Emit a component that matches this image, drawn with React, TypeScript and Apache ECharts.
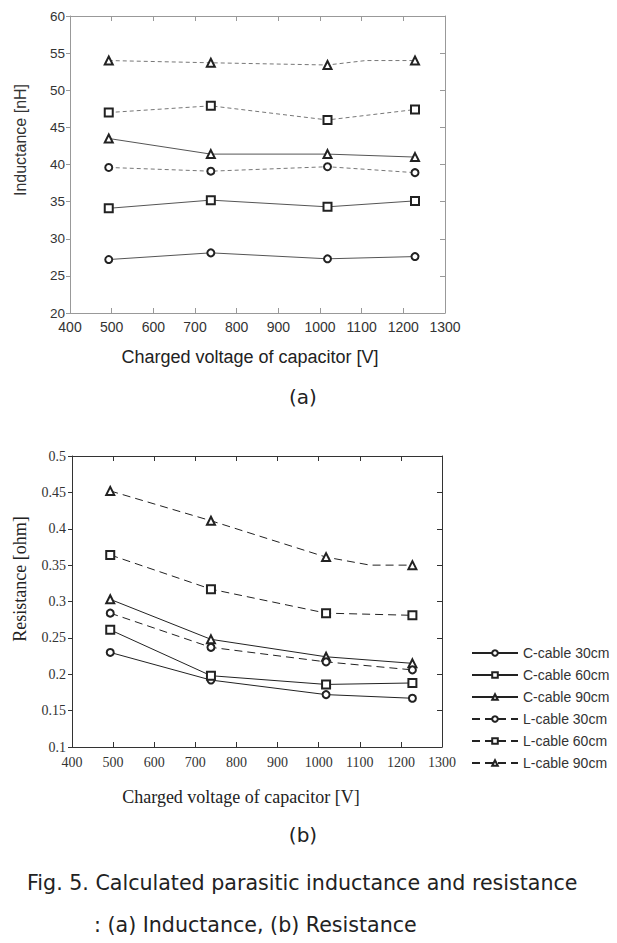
import React, { useEffect, useRef } from "react";
import * as echarts from "echarts";

const voltages = [493, 738, 1018, 1228];
const seriesNames = ["C-cable 30cm", "C-cable 60cm", "C-cable 90cm", "L-cable 30cm", "L-cable 60cm", "L-cable 90cm"];
const symbols = ["emptyCircle", "emptyRect", "emptyTriangle", "emptyCircle", "emptyRect", "emptyTriangle"];
const dashed = [false, false, false, true, true, true];

// (a) Inductance [nH]
const indC30 = [27.2, 28.1, 27.3, 27.6];
const indC60 = [34.1, 35.2, 34.3, 35.1];
const indC90 = [43.5, 41.4, 41.4, 41.0];
const indL30 = [39.6, 39.1, 39.7, 38.9];
const indL60 = [47.0, 47.9, 46.0, 47.4];
const indL90 = [54.0, 53.7, 53.4, 54.0];
const indL90Bend = [1110, 54.0]; // visible vertex of the drawn line (no marker)

// (b) Resistance [ohm]
const resC30 = [0.23, 0.192, 0.172, 0.167];
const resC60 = [0.261, 0.198, 0.186, 0.188];
const resC90 = [0.303, 0.248, 0.224, 0.215];
const resL30 = [0.284, 0.237, 0.217, 0.206];
const resL60 = [0.364, 0.317, 0.284, 0.281];
const resL90 = [0.452, 0.411, 0.361, 0.35];
const resL90Bend = [1125, 0.35];

const xTicks = { min: 400, max: 1300, interval: 100 };
const indTicks = { min: 20, max: 60, interval: 5 };
const resTicks = { min: 0.1, max: 0.5, interval: 0.05 };

const captionLine1 = "Fig. 5. Calculated parasitic inductance and resistance";
const captionLine2 = ": (a) Inductance, (b) Resistance";

function buildData(vals: number[], bend?: number[]) {
  const d: any[] = vals.map((v, i) => [voltages[i], v]);
  if (bend) {
    d.splice(3, 0, { value: bend, symbol: "none" });
  }
  return d;
}

export default function App() {
  const ref = useRef<HTMLDivElement>(null);
  useEffect(() => {
    if (!ref.current) return;
    const chart = echarts.init(ref.current, null, { renderer: "svg" });
    const sans = "'Liberation Sans', Arial, sans-serif";
    const serif = "'Liberation Serif', 'Times New Roman', serif";
    const capFont = "'DejaVu Sans', sans-serif";
    const plain = (v: number) => String(+v.toFixed(2));

    const indVals = [indC30, indC60, indC90, indL30, indL60, indL90];
    const resVals = [resC30, resC60, resC90, resL30, resL60, resL90];

    const series: any[] = [];
    indVals.forEach((vals, i) => {
      series.push({
        type: "line",
        xAxisIndex: 0,
        yAxisIndex: 0,
        data: buildData(vals, i === 5 ? indL90Bend : undefined),
        symbol: symbols[i],
        symbolSize: i % 3 === 0 ? 7 : 8,
        lineStyle: { color: dashed[i] ? "#777" : "#555", width: 1, type: dashed[i] ? [4, 3] : "solid" },
        itemStyle: { color: "#222", borderWidth: 1.2 },
      });
    });
    resVals.forEach((vals, i) => {
      series.push({
        name: seriesNames[i],
        type: "line",
        xAxisIndex: 2,
        yAxisIndex: 2,
        data: buildData(vals, i === 5 ? resL90Bend : undefined),
        symbol: symbols[i],
        symbolSize: i % 3 === 0 ? 7 : 8,
        lineStyle: { color: "#222", width: 1, type: dashed[i] ? [8, 5] : "solid" },
        itemStyle: { color: "#222", borderWidth: 1 },
      });
    });

    const topColor = "#999";
    const botColor = "#333";

    chart.setOption({
      animation: false,
      backgroundColor: "#fff",
      grid: [
        { left: 70, top: 16, width: 375, height: 297, show: false },
        { left: 72, top: 456, width: 370, height: 291, show: false },
      ],
      xAxis: [
        {
          type: "value", gridIndex: 0, ...xTicks, position: "bottom",
          axisLine: { lineStyle: { color: topColor } },
          axisTick: { inside: true, length: 5, lineStyle: { color: topColor } },
          splitLine: { show: false },
          axisLabel: { color: "#333", fontFamily: sans, fontSize: 14, margin: 7, formatter: plain },
        },
        {
          type: "value", gridIndex: 0, ...xTicks, position: "top",
          axisLine: { lineStyle: { color: topColor } },
          axisTick: { inside: true, length: 5, lineStyle: { color: topColor } },
          splitLine: { show: false }, axisLabel: { show: false },
        },
        {
          type: "value", gridIndex: 1, ...xTicks, position: "bottom",
          axisLine: { lineStyle: { color: botColor } },
          axisTick: { inside: true, length: 5, lineStyle: { color: botColor } },
          splitLine: { show: false },
          axisLabel: { color: "#333", fontFamily: serif, fontSize: 14, margin: 8, formatter: plain },
        },
        {
          type: "value", gridIndex: 1, ...xTicks, position: "top",
          axisLine: { lineStyle: { color: botColor } },
          axisTick: { inside: true, length: 5, lineStyle: { color: botColor } },
          splitLine: { show: false }, axisLabel: { show: false },
        },
      ],
      yAxis: [
        {
          type: "value", gridIndex: 0, ...indTicks, position: "left",
          axisLine: { show: true, lineStyle: { color: topColor } },
          axisTick: { show: true, inside: false, length: 4, lineStyle: { color: topColor } },
          splitLine: { show: false },
          axisLabel: { color: "#333", fontFamily: sans, fontSize: 13.5, margin: 5, formatter: plain },
        },
        {
          type: "value", gridIndex: 0, ...indTicks, position: "right",
          axisLine: { show: true, lineStyle: { color: topColor } },
          axisTick: { show: true, inside: true, length: 5, lineStyle: { color: topColor } },
          splitLine: { show: false }, axisLabel: { show: false },
        },
        {
          type: "value", gridIndex: 1, ...resTicks, position: "left",
          axisLine: { show: true, lineStyle: { color: botColor } },
          axisTick: { show: true, inside: false, length: 4, lineStyle: { color: botColor } },
          splitLine: { show: false },
          axisLabel: { color: "#333", fontFamily: serif, fontSize: 14, margin: 6, formatter: plain },
        },
        {
          type: "value", gridIndex: 1, ...resTicks, position: "right",
          axisLine: { show: true, lineStyle: { color: botColor } },
          axisTick: { show: true, inside: true, length: 5, lineStyle: { color: botColor } },
          splitLine: { show: false }, axisLabel: { show: false },
        },
      ],
      legend: {
        data: seriesNames,
        orient: "vertical",
        left: 466,
        top: 641,
        itemWidth: 46,
        itemHeight: 7,
        itemGap: 8,
        textStyle: { fontFamily: sans, fontSize: 14, color: "#333" },
      },
      graphic: [
        {
          type: "text", x: 20, y: 140, rotation: Math.PI / 2,
          style: { text: "Inductance [nH]", font: `16px ${sans}`, fill: "#333", textAlign: "center", textVerticalAlign: "middle" },
        },
        {
          type: "text", x: 250, y: 357,
          style: { text: "Charged voltage of capacitor [V]", font: `18px ${sans}`, fill: "#222", textAlign: "center", textVerticalAlign: "middle" },
        },
        {
          type: "text", x: 303, y: 397,
          style: { text: "(a)", font: `20px ${capFont}`, fill: "#222", textAlign: "center", textVerticalAlign: "middle" },
        },
        {
          type: "text", x: 20, y: 579, rotation: Math.PI / 2,
          style: { text: "Resistance [ohm]", font: `18px ${serif}`, fill: "#222", textAlign: "center", textVerticalAlign: "middle" },
        },
        {
          type: "text", x: 241, y: 797,
          style: { text: "Charged voltage of capacitor [V]", font: `18px ${serif}`, fill: "#222", textAlign: "center", textVerticalAlign: "middle" },
        },
        {
          type: "text", x: 303, y: 835,
          style: { text: "(b)", font: `20px ${capFont}`, fill: "#222", textAlign: "center", textVerticalAlign: "middle" },
        },
        {
          type: "text", x: 27, y: 883,
          style: { text: captionLine1, font: `20.6px ${capFont}`, fill: "#222", textAlign: "left", textVerticalAlign: "middle" },
        },
        {
          type: "text", x: 94, y: 925,
          style: { text: captionLine2, font: `20.6px ${capFont}`, fill: "#222", textAlign: "left", textVerticalAlign: "middle" },
        },
      ],
      series,
    });
    return () => chart.dispose();
  }, []);
  return <div ref={ref} style={{ position: "absolute", left: 0, top: 0, width: 617, height: 943 }} />;
}
